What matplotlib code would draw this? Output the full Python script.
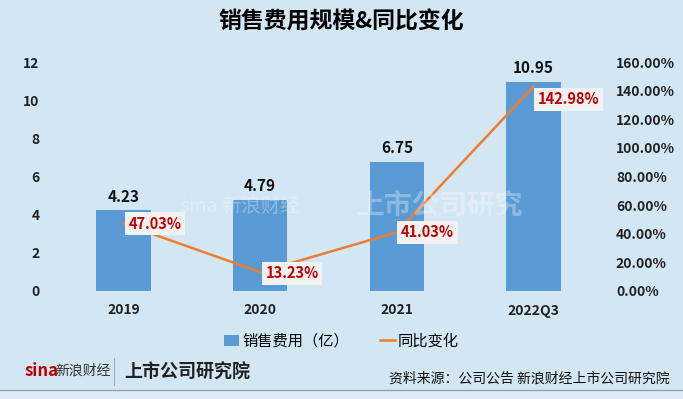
import numpy as np
import matplotlib
matplotlib.use('Agg')
import matplotlib.pyplot as plt
from matplotlib.lines import Line2D
from matplotlib.patches import Patch

plt.rcParams['font.family'] = ['Noto Sans CJK SC', 'DejaVu Sans']

categories = ['2019', '2020', '2021', '2022Q3']
expense = [4.23, 4.79, 6.75, 10.95]
yoy = [47.03, 13.23, 41.03, 142.98]
left_ticks = [0, 2, 4, 6, 8, 10, 12]
right_ticks = [0, 20, 40, 60, 80, 100, 120, 140, 160]

bg = '#D3E6F4'
bar_color = '#5B9BD5'
line_color = '#ED7D31'

fig = plt.figure(figsize=(6.83, 3.99), dpi=100)
fig.patch.set_facecolor(bg)

# faint watermark behind the chart
fig.text(240 / 683, 1 - 206 / 399, 'sina 新浪财经', fontsize=14, color='white', alpha=0.3, ha='center',
         va='center', fontstyle='italic')
fig.text(440 / 683, 1 - 205 / 399, '上市公司研究', fontsize=20, color='white', alpha=0.3, ha='center',
         va='center', fontweight='bold')

ax = fig.add_axes([55 / 683, 1 - 291 / 399, 547 / 683, 229 / 399])
ax.set_facecolor('none')
x = np.arange(len(categories))
ax.bar(x, expense, width=0.4, color=bar_color, zorder=2)
ax.set_xlim(-0.5, 3.5)
ax.set_ylim(0, 12)
ax.set_yticks(left_ticks)
ax.set_yticklabels([str(t) for t in left_ticks], fontsize=10, fontweight='bold', color='#222222')
ax.set_xticks(x)
ax.set_xticklabels(categories, fontsize=10, fontweight='bold', color='#222222')
ax.tick_params(length=0)
ax.tick_params(axis='y', pad=11)
ax.tick_params(axis='x', pad=9)
for s in ax.spines.values():
    s.set_visible(False)
ax.axhline(0, color='#C8C8C8', linewidth=0.8, zorder=1)

for xi, v in zip(x, expense):
    ax.text(xi, v + 0.3, f'{v:.2f}', ha='center', va='bottom', fontsize=11, fontweight='bold', color='#111111')

ax2 = ax.twinx()
ax2.set_ylim(0, 160)
ax2.set_yticks(right_ticks)
ax2.set_yticklabels([f'{t:.2f}%' for t in right_ticks], fontsize=10, fontweight='bold', color='#222222')
ax2.tick_params(length=0, pad=10)
for s in ax2.spines.values():
    s.set_visible(False)
ax2.plot(x, yoy, color=line_color, linewidth=1.8, zorder=3)

offsets = [(0.04, 0), (0.04, -1), (0.03, 0), (0.03, -9)]
for xi, v, (dx, dy) in zip(x, yoy, offsets):
    ax2.text(xi + dx, v + dy, f'{v:.2f}%', ha='left', va='center', fontsize=10.5, fontweight='bold',
             color='#C00000', zorder=4,
             bbox=dict(boxstyle='square,pad=0.25', facecolor='#F2F2F2', edgecolor='none'))

fig.text(0.5, 1 - 22 / 399, '销售费用规模&同比变化', ha='center', va='center', fontsize=16.5, fontweight='bold')

handles = [Patch(facecolor=bar_color, edgecolor='none'), Line2D([], [], color=line_color, linewidth=1.8)]
fig.legend(handles, ['销售费用（亿）', '同比变化'], loc='center', bbox_to_anchor=(0.5, 1 - 341 / 399),
           ncol=2, frameon=False, fontsize=11, handlelength=1.0, handletextpad=0.2, columnspacing=2.0)

fig.text(25 / 683, 1 - 371 / 399, 'sina', fontsize=12, fontweight='bold', fontstyle='italic', color='#C00000',
         va='center')
fig.text(55 / 683, 1 - 371 / 399, '新浪财经', fontsize=10, fontstyle='italic', color='#333333', va='center')
fig.add_artist(Line2D([114 / 683, 114 / 683], [1 - 385 / 399, 1 - 358 / 399], color='#AAAAAA', linewidth=0.8))
fig.text(124 / 683, 1 - 372 / 399, '上市公司研究院', fontsize=13, fontweight='bold', fontstyle='italic',
         color='#222222', va='center')
fig.text(670 / 683, 1 - 379 / 399, '资料来源：公司公告 新浪财经上市公司研究院', ha='right', va='center',
         fontsize=10, color='#111111')

fig.add_artist(Line2D([0, 1], [1 - 390 / 399, 1 - 390 / 399], color='#A0A0A0', linewidth=1.0))
fig.patches.append(plt.Rectangle((0, 0), 1, 1 - 390.5 / 399, transform=fig.transFigure,
                                 facecolor='#DDEBF6', edgecolor='none'))

fig.savefig('out.png', dpi=100, facecolor=bg)
